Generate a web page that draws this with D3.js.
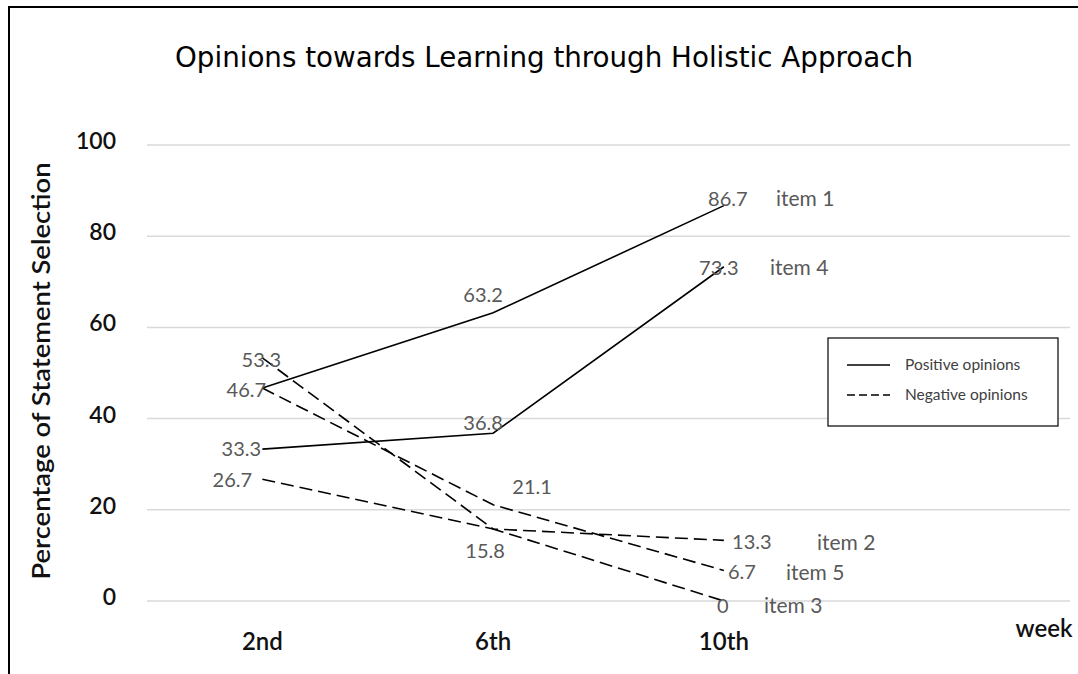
<!DOCTYPE html>
<html>
<head>
<meta charset="utf-8">
<script src="https://cdn.jsdelivr.net/npm/d3@7"></script>
<style>
  body { margin: 0; background: #fff; }
  svg { display: block; }
</style>
</head>
<body>
<div id="chart"></div>
<script>
// week categories on the x axis
var weeks = ["2nd", "6th", "10th"];
var yTicks = [0, 20, 40, 60, 80, 100];

// percentage of statement selection, per item
var item1 = [46.7, 63.2, 86.7];
var item4 = [33.3, 36.8, 73.3];
var item3 = [53.3, 15.8, 0];
var item5 = [46.7, 21.1, 6.7];
var item2 = [26.7, 15.8, 13.3];

var itemNames = ["item 1", "item 4", "item 3", "item 5", "item 2"];
var itemKinds = ["Positive opinions", "Positive opinions", "Negative opinions", "Negative opinions", "Negative opinions"];
var itemValues = [item1, item4, item3, item5, item2];

// which value labels get drawn (shared points only once)
var showLabel = [
    [true, true, true],
    [true, true, true],
    [true, true, true],
    [false, true, true],
    [true, false, true]
];

drawChart();

function drawChart() {
    var w = 1078;
    var h = 674;

    // label offsets from each point (dx, dy), copied from the excel layout
    var labelOffsets = [
        [[-16, 2], [-10, -18], [4, -7]],
        [[-21, 0], [-10, -10], [-5, 1]],
        [[-1, 2], [-8, 22], [-1, 5]],
        [[0, 0], [39, -18], [18, 2]],
        [[-30, 1], [0, 0], [28, 2]]
    ];
    var nameOffsets = [52, 46, 40, 62, 93];

    var svg = d3.select("#chart")
        .append("svg")
        .attr("width", w)
        .attr("height", h);

    // frame (left and top edges only)
    svg.append("path")
        .attr("d", "M9,674 V7 H1078")
        .attr("fill", "none")
        .attr("stroke", "#000")
        .attr("stroke-width", 2);

    // title
    svg.append("text")
        .attr("x", 544)
        .attr("y", 67)
        .attr("text-anchor", "middle")
        .attr("textLength", 738)
        .attr("lengthAdjust", "spacingAndGlyphs")
        .style("font-family", "DejaVu Sans Condensed, DejaVu Sans")
        .style("font-size", "29px")
        .attr("fill", "#000")
        .text("Opinions towards Learning through Holistic Approach");

    // scales: one spare slot on the right like the original
    var x = d3.scaleBand()
        .domain(weeks.concat(["spare"]))
        .range([147, 1070]);
    var y = d3.scaleLinear()
        .domain([0, 100])
        .range([601, 145]);

    function px(i) {
        return x(weeks[i]) + x.bandwidth() / 2;
    }

    // gridlines
    svg.append("g")
        .selectAll("line")
        .data(yTicks)
        .enter()
        .append("line")
        .attr("x1", 147)
        .attr("x2", 1070)
        .attr("y1", function(d) { return y(d); })
        .attr("y2", function(d) { return y(d); })
        .attr("stroke", "#d9d9d9")
        .attr("stroke-width", 1.5);

    // y tick labels
    svg.append("g")
        .selectAll("text")
        .data(yTicks)
        .enter()
        .append("text")
        .attr("x", 116)
        .attr("y", function(d) { return y(d) - 4; })
        .attr("dy", "0.35em")
        .attr("text-anchor", "end")
        .style("font-family", "Lato")
        .style("font-size", "23px")
        .style("font-weight", "600")
        .attr("fill", "#111")
        .text(function(d) { return d; });

    // x tick labels
    svg.append("g")
        .selectAll("text")
        .data(weeks)
        .enter()
        .append("text")
        .attr("x", function(d, i) { return px(i); })
        .attr("y", 642)
        .attr("dy", "0.35em")
        .attr("text-anchor", "middle")
        .style("font-family", "Lato")
        .style("font-size", "24px")
        .style("font-weight", "600")
        .attr("fill", "#111")
        .text(function(d) { return d; });

    svg.append("text")
        .attr("x", 1044)
        .attr("y", 629)
        .attr("dy", "0.35em")
        .attr("text-anchor", "middle")
        .style("font-family", "Lato")
        .style("font-size", "24px")
        .style("font-weight", "600")
        .attr("fill", "#111")
        .text("week");

    // y axis title
    svg.append("text")
        .attr("transform", "translate(41,371) rotate(-90)")
        .attr("dy", "0.35em")
        .attr("text-anchor", "middle")
        .attr("textLength", 417)
        .attr("lengthAdjust", "spacingAndGlyphs")
        .style("font-family", "Lato")
        .style("font-size", "25px")
        .style("font-weight", "600")
        .attr("fill", "#111")
        .text("Percentage of Statement Selection");

    var line = d3.line()
        .x(function(d, i) { return px(i); })
        .y(function(d) { return y(d); });

    // lines
    svg.append("g")
        .selectAll("path")
        .data(itemValues)
        .enter()
        .append("path")
        .attr("d", function(d) { return line(d); })
        .attr("fill", "none")
        .attr("stroke", "#000")
        .attr("stroke-width", 1.6)
        .attr("stroke-dasharray", function(d, i) {
            return itemKinds[i] == "Negative opinions" ? "13,6" : null;
        });

    // value labels
    var labels = svg.append("g");
    itemValues.forEach(function(vals, k) {
        vals.forEach(function(v, i) {
            if (!showLabel[k][i]) return;
            labels.append("text")
                .attr("x", px(i) + labelOffsets[k][i][0])
                .attr("y", y(v) + labelOffsets[k][i][1])
                .attr("dy", "0.35em")
                .attr("text-anchor", "middle")
                .style("font-family", "Lato")
                .style("font-size", "20px")
                .attr("fill", "#595959")
                .text(v);
        });
        // item name next to the last value
        var last = vals.length - 1;
        labels.append("text")
            .attr("x", px(last) + nameOffsets[k])
            .attr("y", y(vals[last]) + labelOffsets[k][last][1])
            .attr("dy", "0.35em")
            .style("font-family", "Lato")
            .style("font-size", "21px")
            .attr("fill", "#595959")
            .text(itemNames[k]);
    });

    // legend
    var legend = svg.append("g");
    legend.append("rect")
        .attr("x", 828)
        .attr("y", 338)
        .attr("width", 230)
        .attr("height", 88)
        .attr("fill", "#fff")
        .attr("stroke", "#000")
        .attr("stroke-width", 1.2);

    var kinds = ["Positive opinions", "Negative opinions"];
    kinds.forEach(function(kind, i) {
        var ly = 365 + i * 30;
        legend.append("line")
            .attr("x1", 847)
            .attr("x2", 890)
            .attr("y1", ly)
            .attr("y2", ly)
            .attr("stroke", "#000")
            .attr("stroke-width", 1.3)
            .attr("stroke-dasharray", i == 1 ? "8,4" : null);
        legend.append("text")
            .attr("x", 905)
            .attr("y", ly)
            .attr("dy", "0.35em")
            .style("font-family", "Lato")
            .style("font-size", "15.5px")
            .attr("fill", "#404040")
            .text(kind);
    });
}
</script>
</body>
</html>
